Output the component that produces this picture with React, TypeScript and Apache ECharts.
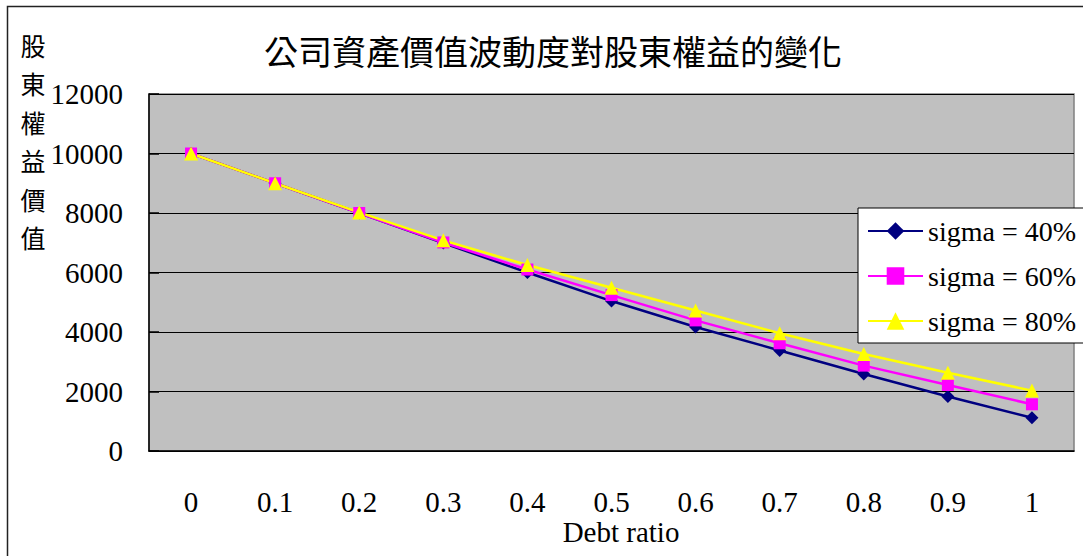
import React, { useEffect, useRef } from "react";
import * as echarts from "echarts";

const categories = ["0", "0.1", "0.2", "0.3", "0.4", "0.5", "0.6", "0.7", "0.8", "0.9", "1"];
const sigma40 = [10000, 9000, 8000, 6990, 6000, 5040, 4170, 3380, 2590, 1830, 1120];
const sigma60 = [10000, 9000, 8000, 7010, 6100, 5240, 4390, 3620, 2870, 2220, 1570];
const sigma80 = [10000, 9000, 8020, 7080, 6250, 5490, 4720, 3960, 3260, 2630, 2030];
const seriesNames = ["sigma = 40%", "sigma = 60%", "sigma = 80%"];
const titleText = "公司資產價值波動度對股東權益的變化";
const yAxisTitle = "股\n東\n權\n益\n價\n值";
const xAxisTitle = "Debt ratio";

const SERIF = "'Liberation Serif', 'Times New Roman', serif";
const CJK = "'Noto Sans CJK TC', 'Noto Sans CJK SC', sans-serif";

export default function App() {
  const ref = useRef<HTMLDivElement>(null);
  useEffect(() => {
    if (!ref.current) return;
    const chart = echarts.init(ref.current, null, { renderer: "svg" });
    const mk = (name: string, data: number[], color: string, symbol: string, size: any) => ({
      name,
      type: "line",
      data,
      symbol,
      symbolSize: size,
      lineStyle: { color, width: 2.5 },
      itemStyle: { color, borderWidth: 0 },
      emphasis: { disabled: true },
    });
    chart.setOption({
      animation: false,
      backgroundColor: "#ffffff",
      grid: {
        left: 149,
        top: 94,
        width: 925,
        height: 357,
        show: true,
        backgroundColor: "#C0C0C0",
        borderColor: "#808080",
        borderWidth: 1.5,
      },
      xAxis: {
        type: "category",
        data: categories,
        boundaryGap: true,
        axisLine: { lineStyle: { color: "#000", width: 1.5 } },
        axisTick: { inside: true, length: 11, interval: 0, lineStyle: { color: "#000", width: 1.5 } },
        axisLabel: { interval: 0, fontFamily: SERIF, fontSize: 29, color: "#000", margin: 36 },
        splitLine: { show: false },
      },
      yAxis: {
        type: "value",
        min: 0,
        max: 12000,
        interval: 2000,
        axisLine: { show: true, lineStyle: { color: "#000", width: 1.5 } },
        axisTick: { show: true, inside: true, length: 10, lineStyle: { color: "#000", width: 1.5 } },
        axisLabel: {
          fontFamily: SERIF,
          fontSize: 29,
          color: "#000",
          margin: 26,
          padding: [12, 0, 0, 0],
          formatter: (v: number) => String(v),
        },
        splitLine: { show: true, lineStyle: { color: "#000", width: 1 } },
      },
      legend: {
        orient: "vertical",
        left: 858,
        top: 208,
        data: seriesNames,
        selectedMode: false,
        backgroundColor: "#fff",
        borderColor: "#000",
        borderWidth: 1,
        padding: [8, 8, 7, 9],
        itemWidth: 55,
        itemHeight: 22,
        itemGap: 15,
        textStyle: { fontFamily: SERIF, fontSize: 28, color: "#000", lineHeight: 30 },
      },
      graphic: [
        {
          type: "rect",
          shape: { x: 7.5, y: 6.5, width: 1200, height: 700 },
          style: { fill: "none", stroke: "#222", lineWidth: 1.5 },
          silent: true,
          z: 100,
        },
        {
          type: "text",
          x: 553,
          y: 50,
          style: {
            text: titleText,
            fontFamily: CJK,
            fontSize: 34,
            fill: "#000",
            textAlign: "center",
            textVerticalAlign: "middle",
          },
        },
        {
          type: "text",
          x: 33,
          y: 141,
          style: {
            text: yAxisTitle,
            fontFamily: CJK,
            fontSize: 25,
            lineHeight: 38.5,
            fill: "#000",
            textAlign: "center",
            textVerticalAlign: "middle",
          },
        },
        {
          type: "text",
          x: 621,
          y: 532,
          style: {
            text: xAxisTitle,
            fontFamily: SERIF,
            fontSize: 29,
            fill: "#000",
            textAlign: "center",
            textVerticalAlign: "middle",
          },
        },
      ],
      series: [
        mk(seriesNames[0], sigma40, "#000080", "diamond", [13, 13]),
        mk(seriesNames[1], sigma60, "#FF00FF", "rect", 12),
        mk(seriesNames[2], sigma80, "#FFFF00", "triangle", 14),
      ],
    });
    return () => chart.dispose();
  }, []);
  return (
    <div
      ref={ref}
      style={{ position: "fixed", left: 0, top: 0, width: 1083, height: 556 }}
    />
  );
}
